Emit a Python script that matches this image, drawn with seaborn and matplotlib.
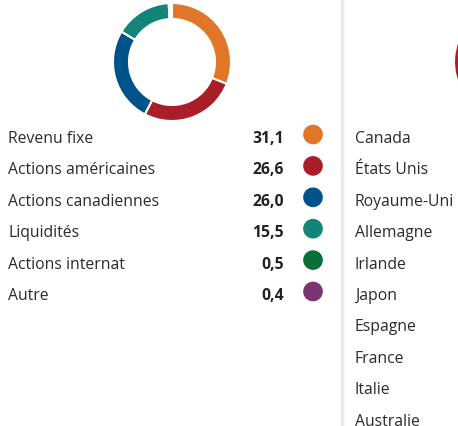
import numpy as np
import pandas as pd
import matplotlib.pyplot as plt
import seaborn as sns

# Data
categories = ['Revenu fixe', 'Actions américaines', 'Actions canadiennes',
              'Liquidités', 'Actions internat', 'Autre']
weights = [31.1, 26.6, 26.0, 15.5, 0.5, 0.4]
weight_labels = ['31,1', '26,6', '26,0', '15,5', '0,5', '0,4']
colors = ['#E07628', '#A91E29', '#00538A', '#138479', '#0B7038', '#7B3472']

countries = ['Canada', 'États Unis', 'Royaume-Uni', 'Allemagne', 'Irlande',
             'Japon', 'Espagne', 'France', 'Italie', 'Australie']
# right donut is mostly cut off; only a red arc shows on its left side
country_weights = [46, 40, 4, 3, 2, 2, 1, 1, 0.5, 0.5]
country_colors = ['#E07628', '#A91E29', '#00538A', '#138479', '#0B7038',
                  '#7B3472', '#C9A227', '#5B8DB8', '#8C8C8C', '#4A4A4A']

sns.set_style('white')
plt.rcParams['font.family'] = ['Open Sans', 'DejaVu Sans']

W, H = 458, 427
fig = plt.figure(figsize=(W / 100, H / 100), dpi=100)
ax = fig.add_axes([0, 0, 1, 1])

def py(y):
    return H - y

row0, step = 137, 31.4
fs = 11.3

# left donut
ax.pie(weights, colors=colors, radius=59, center=(172, py(63)),
       startangle=90, counterclock=False,
       wedgeprops=dict(width=16, edgecolor='white', linewidth=1.5))

# right donut (clipped by the figure edge)
ax.pie(country_weights, colors=country_colors, radius=59, center=(513, py(63)),
       startangle=90, counterclock=False,
       wedgeprops=dict(width=16, edgecolor='white', linewidth=1.5))

# legend table on the left
df = pd.DataFrame({'cat': categories, 'val': weights, 'lab': weight_labels})
df['y'] = [py(row0 + step * i) for i in range(len(df))]
df['x'] = 313
sns.scatterplot(x=df['x'], y=df['y'] + 1.5, hue=df['cat'], palette=colors, s=200,
                linewidth=0, legend=False, ax=ax)
for _, r in df.iterrows():
    ax.text(8, r['y'], r['cat'], ha='left', va='center_baseline', fontsize=fs,
            color='#2b2b2b')
    ax.text(284, r['y'], r['lab'], ha='right', va='center_baseline', fontsize=fs,
            fontweight='bold', color='#222222')

# divider
ax.axvline(342, color='#ece9ea', linewidth=2.5)

# right column labels
for i, c in enumerate(countries):
    ax.text(355, py(row0 + step * i), c, ha='left', va='center_baseline',
            fontsize=fs, color='#2b2b2b')

ax.set_xlim(0, W)
ax.set_ylim(0, H)
ax.set_aspect('equal')
ax.axis('off')

plt.savefig('out.png', dpi=100)
